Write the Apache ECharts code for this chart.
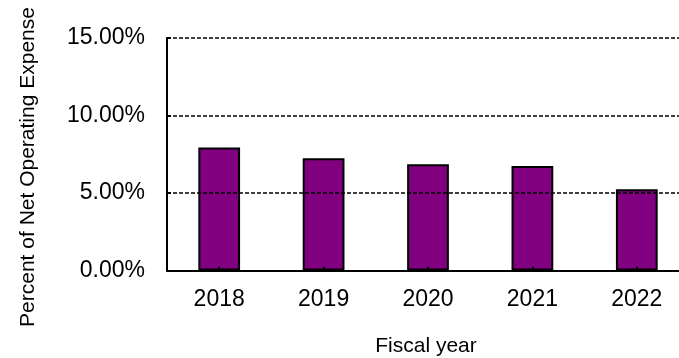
<!DOCTYPE html>
<html>
<head>
<meta charset="utf-8">
<script src="https://cdn.jsdelivr.net/npm/echarts@6/dist/echarts.min.js"></script>
<style>
  html, body { margin: 0; padding: 0; background: #fff; }
  #chart { width: 679px; height: 358px; }
</style>
</head>
<body>
<div id="chart"></div>
<script>
// Fiscal years and the share of net operating expense (percent)
const years = ['2018', '2019', '2020', '2021', '2022'];
const shares = [7.94, 7.25, 6.86, 6.75, 5.25];
const yTicks = { min: 0, max: 15, step: 5 };

const font = 'Liberation Sans, Arial, sans-serif';
const chart = echarts.init(document.getElementById('chart'), null, { renderer: 'canvas' });

chart.setOption({
  animation: false,
  backgroundColor: '#ffffff',
  // the plot runs a little past the right edge of the canvas
  grid: {
    left: 167, width: 522, top: 38, height: 232.5,
    containLabel: false, outerBoundsMode: 'none'
  },
  xAxis: {
    type: 'category',
    data: years,
    boundaryGap: true,
    axisLine: { show: true, lineStyle: { color: '#000', width: 2 } },
    axisTick: { show: true, inside: true, alignWithLabel: true, length: 4, lineStyle: { color: '#000', width: 2 } },
    axisLabel: { color: '#000', fontFamily: font, fontSize: 23, margin: 18 },
    splitLine: { show: false },
    z: 5
  },
  yAxis: {
    type: 'value',
    min: yTicks.min,
    max: yTicks.max,
    interval: yTicks.step,
    axisLine: { show: true, lineStyle: { color: '#000', width: 2 } },
    axisTick: { show: true, inside: true, length: 4, lineStyle: { color: '#000', width: 2 } },
    axisLabel: {
      color: '#000', fontFamily: font, fontSize: 23, margin: 22,
      formatter: v => v.toFixed(2) + '%'
    },
    splitLine: { show: true, lineStyle: { color: '#000', width: 1.5, type: [4, 2] } },
    z: 5
  },
  series: [{
    type: 'bar',
    data: shares,
    barWidth: '40%',
    itemStyle: { color: '#800080', borderColor: '#000', borderWidth: 2 },
    z: 3
  }],
  graphic: [
    {
      type: 'text',
      x: 28, y: 167,
      rotation: Math.PI / 2,
      style: {
        text: 'Percent of Net Operating Expense',
        fontFamily: font, fontSize: 21, fill: '#000',
        textAlign: 'center', textVerticalAlign: 'middle'
      }
    },
    {
      type: 'text',
      x: 426, y: 346,
      style: {
        text: 'Fiscal year',
        fontFamily: font, fontSize: 21, fill: '#000',
        textAlign: 'center', textVerticalAlign: 'middle'
      }
    }
  ]
});
</script>
</body>
</html>
